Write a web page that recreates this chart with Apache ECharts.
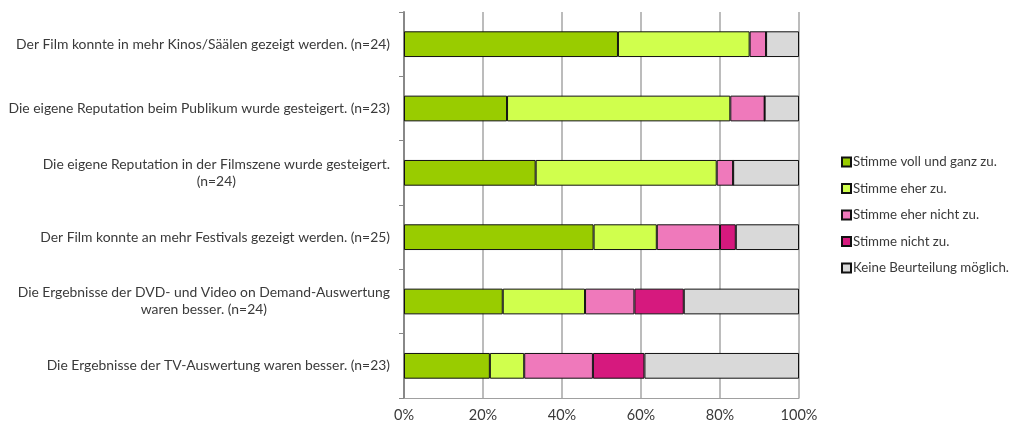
<!DOCTYPE html>
<html>
<head>
<meta charset="utf-8">
<script src="https://cdn.jsdelivr.net/npm/echarts@6/dist/echarts.min.js"></script>
<style>
  html, body { margin: 0; padding: 0; background: #fff; }
  #chart { width: 1011px; height: 423px; }
</style>
</head>
<body>
<div id="chart"></div>
<script>
// Statements (top to bottom) and number of respondents for each
const statements = [
  'Der Film konnte in mehr Kinos/Säälen gezeigt werden.',
  'Die eigene Reputation beim Publikum wurde gesteigert.',
  'Die eigene Reputation in der Filmszene wurde gesteigert.',
  'Der Film konnte an mehr Festivals gezeigt werden.',
  'Die Ergebnisse der DVD- und Video on Demand-Auswertung',
  'Die Ergebnisse der TV-Auswertung waren besser.'
];
// second line for statements that wrap
const statementTails = ['', '', '', '', 'waren besser.', ''];
const respondents = [24, 23, 24, 25, 24, 23];

// Answer counts per statement
const answerNames = [
  'Stimme voll und ganz zu.',
  'Stimme eher zu.',
  'Stimme eher nicht zu.',
  'Stimme nicht zu.',
  'Keine Beurteilung möglich.'
];
const fullyAgree     = [13, 6, 8, 12, 6, 5];
const ratherAgree    = [8, 13, 11, 4, 5, 2];
const ratherDisagree = [1, 2, 1, 4, 3, 4];
const disagree       = [0, 0, 0, 1, 3, 3];
const noJudgement    = [2, 2, 4, 4, 7, 9];

const answerColors = ['#99CC00', '#D0FF4D', '#EF79BB', '#D6197E', '#D9D9D9'];

const xTicks = [0, 20, 40, 60, 80, 100];

const FONT = 'Lato, "Open Sans", sans-serif';
const TEXT = '#3a3a3a';
const LABEL_SIZE = 13.9;

// category keys; labels are composed in the axis formatter
const categories = statements.map((s, i) => String(i));

function categoryLabel(i) {
  const n = '(n=' + respondents[i] + ')';
  if (i === 2) return '{c|' + statements[i] + '}\n{c|' + n + '}';
  if (statementTails[i]) return '{c|' + statements[i] + '}\n{c|' + statementTails[i] + ' ' + n + '}';
  return statements[i] + ' ' + n;
}

const answerCounts = [fullyAgree, ratherAgree, ratherDisagree, disagree, noJudgement];

const series = answerNames.map((name, k) => ({
  name: name,
  type: 'bar',
  stack: 'total',
  barWidth: '40%',
  itemStyle: { color: answerColors[k], borderColor: '#111', borderWidth: 1 },
  emphasis: { disabled: true },
  data: answerCounts[k].map((c, i) => c / respondents[i] * 100)
}));

const chart = echarts.init(document.getElementById('chart'), null, { renderer: 'canvas' });
chart.setOption({
  animation: false,
  textStyle: { fontFamily: FONT },
  grid: { left: 404, right: 212, top: 12, bottom: 25, containLabel: false },
  legend: {
    orient: 'vertical',
    left: 836,
    top: 150,
    itemWidth: 9,
    itemHeight: 9,
    itemGap: 12.5,
    icon: 'rect',
    textStyle: { fontFamily: FONT, fontSize: 13.3, lineHeight: 14, color: TEXT, padding: [0, 0, 0, -3] },
    data: answerNames
  },
  xAxis: {
    type: 'value',
    min: 0,
    max: 100,
    interval: 20,
    axisLine: { show: true, lineStyle: { color: '#A0A0A0', width: 1 } },
    axisTick: { show: false },
    splitLine: { show: true, lineStyle: { color: '#A6A6A6', width: 1.5 } },
    axisLabel: {
      fontFamily: FONT, fontSize: 14.5, color: TEXT, margin: 10,
      formatter: v => xTicks.includes(v) ? v + '%' : ''
    }
  },
  yAxis: {
    type: 'category',
    inverse: true,
    data: categories,
    axisLine: { show: true, lineStyle: { color: '#888', width: 2 } },
    axisTick: { show: true, length: 5, lineStyle: { color: '#888', width: 1 } },
    axisLabel: {
      fontFamily: FONT, fontSize: LABEL_SIZE, color: TEXT, margin: 14,
      lineHeight: 17,
      formatter: (v) => categoryLabel(Number(v)),
      rich: {
        c: { align: 'center', fontFamily: FONT, fontSize: LABEL_SIZE, color: TEXT, lineHeight: 17 }
      }
    }
  },
  series: series
});
</script>
</body>
</html>
